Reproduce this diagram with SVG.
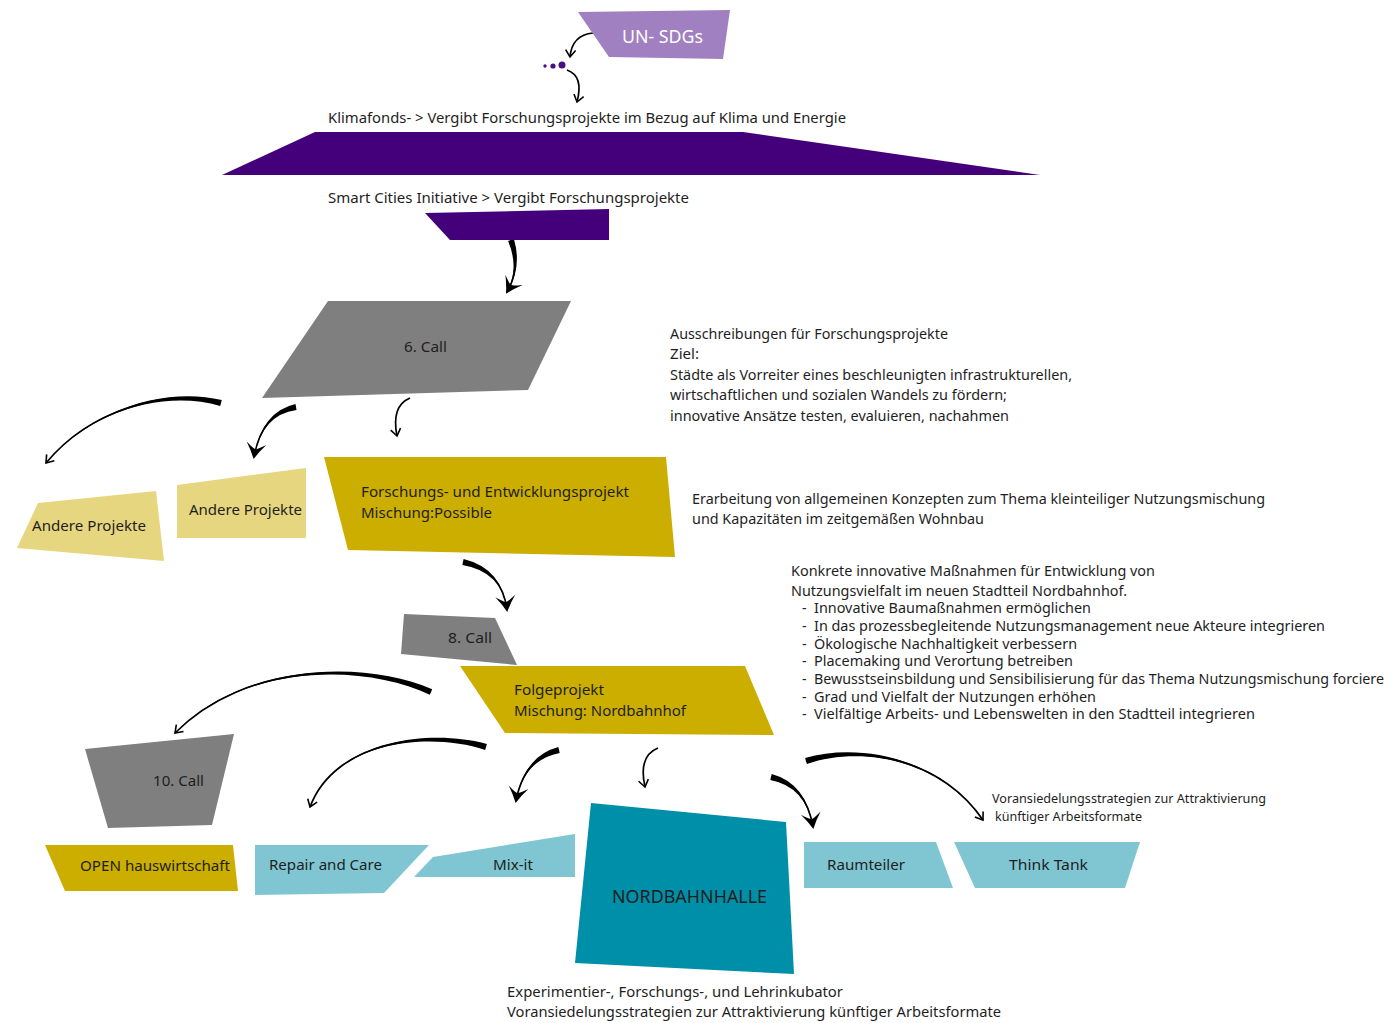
<svg xmlns="http://www.w3.org/2000/svg" width="1392" height="1023" viewBox="0 0 1392 1023">
<style>
text{font-family:"Noto Sans","Open Sans",sans-serif;font-size:15px;fill:#1e1e1e}
.li{font-size:14px}
.sm{font-size:13px}
.big{font-size:18px}
.w{fill:#ffffff}
.gray{fill:#7f7f7f}
.olive{fill:#ccae00}
.ly{fill:#e7d680}
.lb{fill:#80c6d2}
.teal{fill:#008fa8}
.dp{fill:#44007a}
.lp{fill:#a080c0}
.line{fill:none;stroke:#000;stroke-width:1.7}
.taper{fill:#000;stroke:none}
</style>
<defs>
<marker id="bigHead" viewBox="-16 -12 20 24" refX="0" refY="0" markerWidth="20" markerHeight="24" markerUnits="userSpaceOnUse" orient="auto" overflow="visible">
<path d="M2,0 Q-6,-4 -14,-10 Q-8,-2 -8,0 Q-8,2 -14,10 Q-6,4 2,0 Z" fill="#000"/>
</marker>
<marker id="smallHead" viewBox="-10 -7 12 14" refX="0" refY="0" markerWidth="12" markerHeight="14" markerUnits="userSpaceOnUse" orient="auto" overflow="visible">
<path d="M-7,-5 L0,0 L-7,5" fill="none" stroke="#000" stroke-width="1.6"/>
</marker>
</defs>
<rect width="1392" height="1023" fill="#ffffff"/>

<g id="connectors">
<path class="line" d="M593,33 Q572,35 570,57" stroke-width="2" marker-end="url(#smallHead)"/>
<path class="line" d="M567,70 Q584,76 577,102" stroke-width="2" marker-end="url(#smallHead)"/>
<path class="taper" d="M508.1,241 Q519.6,268.4 507,292 Q522.4,267.4 513.9,239 Z"/>
<path class="line" d="M511,240 Q521,268 507,292" marker-end="url(#bigHead)"/>
<path class="taper" d="M221.8,400.1 C165.5,386.3 89.5,409.6 46,463 C90.5,410.4 164.5,389.7 220.2,405.9 Z"/>
<path class="line" d="M221,403 C165,388 90,410 46,463" stroke-width="1.4" marker-end="url(#smallHead)"/>
<path class="taper" d="M295.5,404 Q261.7,411.5 254,457 Q262.3,414.5 296.5,410 Z"/>
<path class="line" d="M296,407 Q262,413 254,457" marker-end="url(#bigHead)"/>
<path class="line" d="M410,398 Q391,406 397,436" stroke-width="2" marker-end="url(#smallHead)"/>
<path class="taper" d="M462.4,565 Q501.7,571.5 507,610 Q502.3,568.5 463.6,559 Z"/>
<path class="line" d="M463,562 Q502,570 507,610" marker-end="url(#bigHead)"/>
<path class="taper" d="M432.2,689.3 C365.7,660.4 244.6,661.6 175,733 C245.4,662.4 364.3,663.6 429.8,694.7 Z"/>
<path class="line" d="M431,692 C365,662 245,662 175,733" stroke-width="1.4" marker-end="url(#smallHead)"/>
<path class="taper" d="M486.9,744.1 C430.5,728.3 334.4,739.8 310,807 C335.6,740.2 429.5,731.7 485.1,749.9 Z"/>
<path class="line" d="M486,747 C430,730 335,740 310,807" stroke-width="1.4" marker-end="url(#smallHead)"/>
<path class="taper" d="M558.3,747.1 Q523.6,756.5 516,801 Q524.4,759.5 559.7,752.9 Z"/>
<path class="line" d="M559,750 Q524,758 516,801" marker-end="url(#bigHead)"/>
<path class="line" d="M658,748 Q638,756 645,787" stroke-width="2" marker-end="url(#smallHead)"/>
<path class="taper" d="M770.3,779.9 Q805.6,786.5 813,827 Q806.4,783.5 771.7,774.1 Z"/>
<path class="line" d="M771,777 Q806,785 813,827" marker-end="url(#bigHead)"/>
<path class="taper" d="M806.9,763.9 C860.5,745.7 939.5,758.3 983,820 C940.5,757.7 859.5,742.3 805.1,758.1 Z"/>
<path class="line" d="M806,761 C860,744 940,758 983,820" stroke-width="1.4" marker-end="url(#smallHead)"/>
</g>

<g id="un-sdgs">
<polygon class="lp" points="578,12 730,10 723,59 609,57"/>
<text class="big w" x="622" y="43" textLength="81" lengthAdjust="spacingAndGlyphs">UN- SDGs</text>
</g>

<g id="dots">
<circle cx="545" cy="66" r="1.7" fill="#4a1080"/>
<circle cx="553" cy="66" r="2.6" fill="#4a1080"/>
<circle cx="562" cy="65" r="3.5" fill="#4a1080"/>
</g>

<g id="klimafonds">
<text x="328" y="123" textLength="518" lengthAdjust="spacingAndGlyphs">Klimafonds- &gt; Vergibt Forschungsprojekte im Bezug auf Klima und Energie</text>
<polygon class="dp" points="222,175 315,132 743,132 1040,175"/>
</g>

<g id="smart-cities">
<text x="328" y="203" textLength="361" lengthAdjust="spacingAndGlyphs">Smart Cities Initiative &gt; Vergibt Forschungsprojekte</text>
<polygon class="dp" points="425,213 609,209 609,240 450,240"/>
</g>

<g id="call6">
<polygon class="gray" points="328,301 571,301 528,390 262,398"/>
<text x="404" y="352" textLength="43" lengthAdjust="spacingAndGlyphs">6. Call</text>
</g>

<g id="call6-description">
<text x="670" y="339" textLength="278" lengthAdjust="spacingAndGlyphs">Ausschreibungen für Forschungsprojekte</text>
<text x="670" y="359" textLength="29" lengthAdjust="spacingAndGlyphs">Ziel:</text>
<text x="670" y="380" textLength="402" lengthAdjust="spacingAndGlyphs">Städte als Vorreiter eines beschleunigten infrastrukturellen,</text>
<text x="670" y="400" textLength="337" lengthAdjust="spacingAndGlyphs">wirtschaftlichen und sozialen Wandels zu fördern;</text>
<text x="670" y="421" textLength="339" lengthAdjust="spacingAndGlyphs">innovative Ansätze testen, evaluieren, nachahmen</text>
</g>

<g id="andere-projekte-1">
<polygon class="ly" points="38,503 156,491 164,561 17,548"/>
<text x="32" y="531" textLength="114" lengthAdjust="spacingAndGlyphs">Andere Projekte</text>
</g>

<g id="andere-projekte-2">
<polygon class="ly" points="177,485 306,468 306,538 177,538"/>
<text x="189" y="515" textLength="113" lengthAdjust="spacingAndGlyphs">Andere Projekte</text>
</g>

<g id="mischung-possible">
<polygon class="olive" points="324,457 666,457 675,557 348,550"/>
<text x="361" y="497" textLength="268" lengthAdjust="spacingAndGlyphs">Forschungs- und Entwicklungsprojekt</text>
<text x="361" y="518" textLength="131" lengthAdjust="spacingAndGlyphs">Mischung:Possible</text>
</g>

<g id="possible-description">
<text x="692" y="504" textLength="573" lengthAdjust="spacingAndGlyphs">Erarbeitung von allgemeinen Konzepten zum Thema kleinteiliger Nutzungsmischung</text>
<text x="692" y="524" textLength="292" lengthAdjust="spacingAndGlyphs">und Kapazitäten im zeitgemäßen Wohnbau</text>
</g>

<g id="call8">
<polygon class="gray" points="404,614 495,618 517,665 401,654"/>
<text x="448" y="643" textLength="44" lengthAdjust="spacingAndGlyphs">8. Call</text>
</g>

<g id="folgeprojekt">
<polygon class="olive" points="460,666 745,666 774,735 505,733"/>
<text x="514" y="695" textLength="90" lengthAdjust="spacingAndGlyphs">Folgeprojekt</text>
<text x="514" y="716" textLength="172" lengthAdjust="spacingAndGlyphs">Mischung: Nordbahnhof</text>
</g>

<g id="folgeprojekt-description">
<text x="791" y="576" textLength="364" lengthAdjust="spacingAndGlyphs">Konkrete innovative Maßnahmen für Entwicklung von</text>
<text x="791" y="596" textLength="336" lengthAdjust="spacingAndGlyphs">Nutzungsvielfalt im neuen Stadtteil Nordbahnhof.</text>
<text class="li" x="802" y="613">-<tspan x="814" textLength="277" lengthAdjust="spacingAndGlyphs">Innovative Baumaßnahmen ermöglichen</tspan></text>
<text class="li" x="802" y="631">-<tspan x="814" textLength="511" lengthAdjust="spacingAndGlyphs">In das prozessbegleitende Nutzungsmanagement neue Akteure integrieren</tspan></text>
<text class="li" x="802" y="649">-<tspan x="814" textLength="263" lengthAdjust="spacingAndGlyphs">Ökologische Nachhaltigkeit verbessern</tspan></text>
<text class="li" x="802" y="666">-<tspan x="814" textLength="259" lengthAdjust="spacingAndGlyphs">Placemaking und Verortung betreiben</tspan></text>
<text class="li" x="802" y="684">-<tspan x="814" textLength="570" lengthAdjust="spacingAndGlyphs">Bewusstseinsbildung und Sensibilisierung für das Thema Nutzungsmischung forciere</tspan></text>
<text class="li" x="802" y="702">-<tspan x="814" textLength="282" lengthAdjust="spacingAndGlyphs">Grad und Vielfalt der Nutzungen erhöhen</tspan></text>
<text class="li" x="802" y="719">-<tspan x="814" textLength="441" lengthAdjust="spacingAndGlyphs">Vielfältige Arbeits- und Lebenswelten in den Stadtteil integrieren</tspan></text>
</g>

<g id="call10">
<polygon class="gray" points="85,749 234,734 212,825 108,828"/>
<text x="153" y="786" textLength="51" lengthAdjust="spacingAndGlyphs">10. Call</text>
</g>

<g id="open-hauswirtschaft">
<polygon class="olive" points="45,845 233,845 238,891 65,891"/>
<text x="80" y="871" textLength="150" lengthAdjust="spacingAndGlyphs">OPEN hauswirtschaft</text>
</g>

<g id="repair-and-care">
<polygon class="lb" points="255,845 429,845 384,893 255,895"/>
<text x="269" y="870" textLength="113" lengthAdjust="spacingAndGlyphs">Repair and Care</text>
</g>

<g id="mix-it">
<polygon class="lb" points="433,857 575,834 575,877 414,877"/>
<text x="493" y="870" textLength="40" lengthAdjust="spacingAndGlyphs">Mix-it</text>
</g>

<g id="nordbahnhalle">
<polygon class="teal" points="591,803 786,822 794,974 575,963"/>
<text class="big" x="612" y="903" textLength="155" lengthAdjust="spacingAndGlyphs">NORDBAHNHALLE</text>
</g>

<g id="nordbahnhalle-description">
<text x="507" y="997" textLength="336" lengthAdjust="spacingAndGlyphs">Experimentier-, Forschungs-, und Lehrinkubator</text>
<text x="507" y="1017" textLength="494" lengthAdjust="spacingAndGlyphs">Voransiedelungsstrategien zur Attraktivierung künftiger Arbeitsformate</text>
</g>

<g id="raumteiler">
<polygon class="lb" points="804,842 936,842 953,888 804,888"/>
<text x="827" y="870" textLength="78" lengthAdjust="spacingAndGlyphs">Raumteiler</text>
</g>

<g id="think-tank">
<polygon class="lb" points="954,842 1140,842 1125,888 975,888"/>
<text x="1009" y="870" textLength="79" lengthAdjust="spacingAndGlyphs">Think Tank</text>
</g>

<g id="think-tank-label">
<text class="sm" x="992" y="803" textLength="274" lengthAdjust="spacingAndGlyphs">Voransiedelungsstrategien zur Attraktivierung</text>
<text class="sm" x="995" y="821" textLength="147" lengthAdjust="spacingAndGlyphs">künftiger Arbeitsformate</text>
</g>
</svg>
